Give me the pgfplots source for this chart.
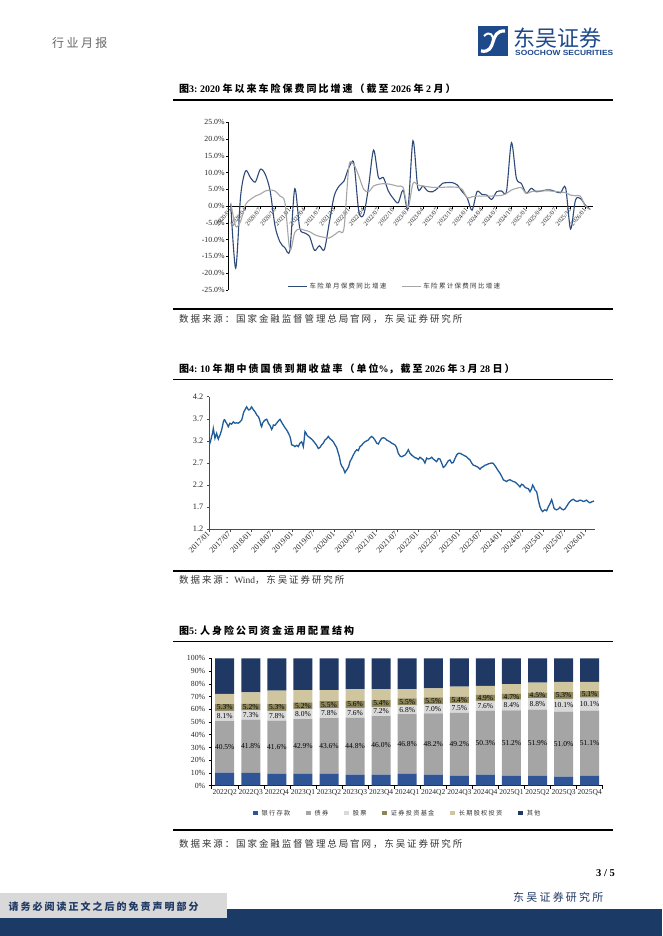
\documentclass[border=0pt]{standalone}
\usepackage{fontspec}
\usepackage{graphicx}
\usepackage{pgfplots}
\usepackage{pgfplotstable}
\pgfplotsset{compat=1.18}
\setmainfont{Liberation Serif}
\newfontfamily\cjk{Noto Sans CJK SC}
\newfontfamily\cjkls{Noto Sans CJK SC}[LetterSpace=20]
\newfontfamily\lsans{Liberation Sans}
\definecolor{navy}{HTML}{1F3864}
\definecolor{logoblue}{HTML}{1E4A8C}
\definecolor{c1blue}{HTML}{2E4A78}
\definecolor{c1gray}{HTML}{A6A6A6}
\definecolor{c2blue}{HTML}{1F5C99}
\definecolor{cbank}{HTML}{2F5597}
\definecolor{cbond}{HTML}{A5A5A5}
\definecolor{cstock}{HTML}{D9D9D9}
\definecolor{cfund}{HTML}{8C855A}
\definecolor{clte}{HTML}{CFC6A0}
\definecolor{cother}{HTML}{1F3864}
\definecolor{footgray}{HTML}{D9D9D9}
\definecolor{footnavy}{HTML}{1B3A66}
\definecolor{txt}{HTML}{333333}
\newcommand{\T}[1]{{\rmfamily\bfseries #1}}
\newcommand{\C}[1]{{\cjkls\bfseries #1}}
\pgfplotsset{/pgf/number format/assume math mode=true}

\pgfplotstableread{
i m c
0 0.5 1.0
1 -18.5 -6.0
2 3.0 -4.5
3 10.5 0.5
4 8.5 2.0
5 7.2 3.0
6 11.0 3.6
7 9.5 4.5
8 4.5 4.8
9 -6.0 4.5
10 -10.7 3.0
11 -12.4 1.0
12 -13.1 -13.0
13 5.2 -7.8
14 -6.5 -6.8
15 -8.0 -7.2
16 -9.0 -7.6
17 -13.2 -8.5
18 -11.8 -9.0
19 -13.0 -9.3
20 -5.0 -9.5
21 3.0 -8.6
22 6.0 -7.5
23 7.5 -6.5
24 11.5 12.0
25 12.8 12.3
26 -1.5 9.0
27 -2.5 5.0
28 6.0 4.3
29 16.7 6.0
30 8.5 6.5
31 8.5 6.7
32 4.5 6.6
33 2.3 6.3
34 1.0 5.9
35 4.8 5.6
36 -0.5 -0.5
37 19.5 6.8
38 5.3 6.3
39 6.0 6.0
40 4.5 5.8
41 4.3 5.6
42 5.3 5.6
43 6.8 5.6
44 7.0 5.7
45 7.0 5.7
46 6.3 5.6
47 4.3 5.0
48 2.5 2.5
49 -1.2 2.8
50 4.3 3.0
51 3.5 3.0
52 3.3 3.0
53 2.0 3.0
54 4.3 3.1
55 4.5 3.2
56 4.5 3.8
57 18.9 4.8
58 8.3 5.3
59 6.8 5.5
60 3.8 3.8
61 5.3 4.3
62 4.3 4.5
63 4.5 4.5
64 4.8 4.6
65 4.8 4.5
66 4.3 4.4
67 4.0 4.2
68 5.5 4.0
69 -6.8 3.3
70 1.8 3.1
71 2.3 3.0
72 0.3 0.0
73 -1.0 -1.0
}\autotab

\pgfplotstableread{
m y
0.00 3.11
0.38 3.20
0.67 3.30
0.96 3.38
1.15 3.48
1.44 3.35
1.63 3.26
1.92 3.33
2.11 3.37
2.40 3.28
2.59 3.24
2.88 3.30
3.07 3.33
3.36 3.40
3.55 3.45
3.84 3.55
4.03 3.63
4.31 3.68
4.51 3.67
4.79 3.62
4.99 3.60
5.27 3.55
5.47 3.52
5.75 3.57
5.94 3.60
6.42 3.58
6.90 3.63
7.38 3.60
7.86 3.61
8.34 3.60
8.82 3.63
9.30 3.67
9.59 3.75
9.78 3.82
10.07 3.88
10.26 3.90
10.55 3.95
10.74 3.97
11.03 3.93
11.31 3.90
11.70 3.91
11.98 3.95
12.18 3.97
12.46 3.93
12.66 3.91
12.94 3.88
13.14 3.86
13.42 3.82
13.71 3.78
14.09 3.75
14.38 3.70
14.67 3.62
14.86 3.55
15.05 3.52
15.34 3.60
15.53 3.63
16.01 3.67
16.49 3.69
16.78 3.65
16.97 3.60
17.45 3.55
17.93 3.46
18.22 3.50
18.41 3.56
18.89 3.55
19.37 3.60
19.85 3.65
20.33 3.69
20.81 3.62
21.28 3.56
21.76 3.50
22.24 3.45
22.72 3.38
23.20 3.30
23.49 3.20
23.68 3.11
24.16 3.10
24.64 3.07
25.12 3.10
25.60 3.07
26.08 3.15
26.56 3.18
26.85 3.12
27.04 3.07
27.32 3.25
27.52 3.41
27.80 3.38
28.09 3.33
28.47 3.30
28.95 3.27
29.43 3.24
29.91 3.20
30.39 3.15
30.87 3.10
31.35 3.03
31.83 3.05
32.31 3.11
32.79 3.15
33.27 3.22
33.75 3.25
34.23 3.30
34.71 3.25
35.19 3.22
35.67 3.18
36.15 3.11
36.63 3.05
37.11 2.92
37.39 2.85
37.78 2.69
38.16 2.62
38.54 2.58
38.83 2.52
39.02 2.48
39.31 2.52
39.69 2.56
40.08 2.62
40.46 2.73
40.94 2.80
41.42 2.88
41.90 2.95
42.38 3.00
42.86 2.98
43.34 3.07
43.82 3.10
44.30 3.15
44.77 3.18
45.25 3.20
45.73 3.22
46.21 3.27
46.69 3.30
47.17 3.27
47.65 3.22
48.13 3.15
48.61 3.13
49.09 3.20
49.57 3.26
50.05 3.27
50.53 3.26
51.01 3.22
51.49 3.20
51.97 3.18
52.45 3.15
52.92 3.13
53.40 3.11
53.88 3.05
54.36 2.92
54.84 2.86
55.32 2.84
55.80 2.86
56.28 2.88
56.76 2.93
57.24 3.00
57.72 2.92
58.20 2.88
58.68 2.85
59.16 2.82
59.64 2.81
60.12 2.78
60.60 2.83
61.07 2.80
61.55 2.77
62.03 2.70
62.51 2.81
62.99 2.79
63.47 2.80
63.95 2.83
64.43 2.79
64.91 2.76
65.39 2.73
65.87 2.80
66.35 2.79
66.83 2.70
67.31 2.60
67.79 2.63
68.27 2.69
68.75 2.75
69.22 2.77
69.70 2.70
70.18 2.71
70.66 2.80
71.14 2.88
71.62 2.92
72.10 2.92
72.58 2.90
73.06 2.88
73.54 2.86
74.02 2.84
74.50 2.80
74.98 2.77
75.46 2.70
75.94 2.65
76.42 2.64
76.90 2.62
77.37 2.60
77.85 2.56
78.33 2.60
78.81 2.62
79.29 2.65
79.77 2.66
80.25 2.68
80.73 2.69
81.21 2.70
81.69 2.69
82.17 2.64
82.65 2.58
83.13 2.52
83.61 2.47
84.09 2.40
84.56 2.32
85.04 2.30
85.52 2.28
86.00 2.31
86.48 2.32
86.96 2.30
87.44 2.28
87.92 2.27
88.40 2.24
88.88 2.20
89.36 2.16
89.84 2.22
90.32 2.20
90.80 2.15
91.28 2.13
91.76 2.12
92.24 2.05
92.71 2.12
93.00 2.20
93.38 2.15
93.67 2.09
94.15 2.05
94.44 1.95
94.63 1.86
95.11 1.71
95.49 1.64
95.88 1.60
96.26 1.63
96.55 1.64
97.03 1.62
97.51 1.71
97.99 1.78
98.47 1.87
98.75 1.80
99.14 1.68
99.52 1.65
99.90 1.64
100.38 1.66
100.86 1.70
101.34 1.66
101.82 1.64
102.30 1.66
102.78 1.72
103.26 1.78
103.74 1.83
104.22 1.86
104.70 1.88
105.18 1.85
105.66 1.83
106.14 1.84
106.62 1.86
107.10 1.85
107.57 1.83
108.05 1.84
108.53 1.86
109.01 1.82
109.49 1.80
109.97 1.82
110.64 1.84
}\yieldtab

\pgfplotstableread{
x bank bond stock fund lte other bc sc fc
0 10.2 40.5 8.1 5.3 7.9 28.0 30.45 54.75 61.45
1 10.0 41.8 7.3 5.2 9.0 26.7 30.90 55.45 61.70
2 9.4 41.6 7.8 5.3 10.5 25.4 30.20 54.90 61.45
3 9.4 42.9 8.0 5.2 9.6 24.9 30.85 56.30 62.90
4 9.4 43.6 7.8 5.5 8.8 24.9 31.20 56.90 63.55
5 8.6 44.8 7.6 5.6 9.3 24.1 31.00 57.20 63.80
6 8.6 46.0 7.2 5.4 8.7 24.1 31.60 58.20 64.50
7 9.4 46.8 6.8 5.5 7.4 24.1 32.80 59.60 65.75
8 8.6 48.2 7.0 5.5 7.1 23.6 32.70 60.30 66.55
9 7.9 49.2 7.5 5.4 7.7 22.3 32.50 60.85 67.30
10 8.6 50.3 7.6 4.9 6.9 21.7 33.75 62.70 68.95
11 7.9 51.2 8.4 4.7 7.6 20.2 33.50 63.30 69.85
12 7.9 51.9 8.8 4.5 7.8 19.1 33.85 64.20 70.85
13 7.1 51.0 10.1 5.3 7.9 18.6 32.60 63.15 70.85
14 7.9 51.1 10.1 5.1 7.2 18.6 33.45 64.05 71.65
}\lifetab

\begin{document}
\begin{tikzpicture}
\useasboundingbox (0,0) rectangle (662pt,936pt);
\fill[white] (0,0) rectangle (662pt,936pt);

% ---------- header ----------
\node[anchor=west, inner sep=0pt, text=black!60, font=\fontsize{12}{14}\selectfont\cjkls] at (52pt,893pt) {行业月报};
\fill[logoblue] (478pt,880pt) rectangle (508pt,910pt);
\draw[white, line width=3.2pt] (481pt,885pt) .. controls (498pt,882pt) and (488pt,906pt) .. (505pt,905pt);
\draw[white, line width=2pt] (484pt,900pt) .. controls (490pt,906pt) and (494pt,900pt) .. (493pt,895pt);
\node[anchor=west, inner sep=0pt, text=logoblue, font=\fontsize{22}{24}\selectfont\cjk] at (513pt,898pt) {东吴证券};
\node[anchor=west, inner sep=0pt, text=logoblue] at (515pt,883.5pt) {\resizebox{98pt}{5.2pt}{\lsans\bfseries SOOCHOW SECURITIES}};

% ---------- chart 1 frame ----------
\node[anchor=west, inner sep=0pt, font=\fontsize{10}{12}\selectfont] at (179pt,847pt)
  {\C{图}\T{3:~2020~}\C{年以来车险保费同比增速（截至}\T{~2026~}\C{年}\T{~2~}\C{月）}};
\draw[line width=1.2pt] (173pt,836pt) -- (613pt,836pt);
\draw[line width=1.2pt] (173pt,627pt) -- (613pt,627pt);
\node[anchor=west, inner sep=0pt, text=txt, font=\fontsize{9.5}{11}\selectfont\cjkls] at (179pt,616.7pt) {数据来源：国家金融监督管理总局官网，东吴证券研究所};

\begin{axis}[
  at={(228.3pt,646pt)}, anchor=south west, scale only axis,
  width=364.4pt, height=167.7pt,
  xmin=-0.5, xmax=73.5, ymin=-25, ymax=25,
  axis x line*=middle, axis y line*=left,
  axis line style={black, line width=0.6pt},
  hide obscured x ticks=false, hide obscured y ticks=false,
  tick align=outside, major tick length=2.5pt,
  tick style={black, line width=0.5pt},
  ytick={-25,-20,-15,-10,-5,0,5,10,15,20,25},
  yticklabel={\pgfmathprintnumber[fixed,fixed zerofill,precision=1]{\tick}\%},
  yticklabel style={font=\fontsize{7.8}{8}\selectfont, inner sep=1pt, text=black!85},
  xtick={0,3,...,72},
  xticklabels={2020/01,2020/04,2020/07,2020/10,2021/01,2021/04,2021/07,2021/10,2022/01,2022/04,2022/07,2022/10,2023/01,2023/04,2023/07,2023/10,2024/01,2024/04,2024/07,2024/10,2025/01,2025/04,2025/07,2025/10,2026/01},
  xticklabel style={rotate=50, anchor=east, font=\fontsize{6.3}{7}\selectfont, inner sep=0.5pt, text=black!85},
  legend style={at={(0.457,0.02)}, anchor=center, draw=none, fill=none, legend columns=2,
    font=\fontsize{6.5}{7}\selectfont\cjkls, text=black!80,
    /tikz/every even column/.append style={column sep=13pt}},
  legend image code/.code={\draw[#1] (0pt,0pt) -- (19pt,0pt);},
]
\addplot[c1blue, line width=1.1pt, smooth, tension=0.5] table[x=i, y=m] {\autotab};
\addlegendentry{车险单月保费同比增速}
\addplot[c1gray, line width=1.1pt, smooth, tension=0.5] table[x=i, y=c] {\autotab};
\addlegendentry{车险累计保费同比增速}
\end{axis}

% ---------- chart 2 frame ----------
\node[anchor=west, inner sep=0pt, font=\fontsize{10}{12}\selectfont] at (179pt,566.7pt)
  {\C{图}\T{4:~10~}\C{年期中债国债到期收益率（单位}\T{\%}\C{，截至}\T{~2026~}\C{年}\T{~3~}\C{月}\T{~28~}\C{日）}};
\draw[line width=1.2pt] (173pt,556.7pt) -- (613pt,556.7pt);
\draw[line width=1.2pt] (173pt,365pt) -- (613pt,365pt);
\node[anchor=west, inner sep=0pt, text=txt, font=\fontsize{9.5}{11}\selectfont\cjkls] at (179pt,356pt) {数据来源：{\rmfamily\fontsize{9.5}{11}\selectfont Wind}，东吴证券研究所};

\begin{axis}[
  at={(209.3pt,406.7pt)}, anchor=south west, scale only axis,
  width=385.9pt, height=132.6pt,
  xmin=0, xmax=111, ymin=1.2, ymax=4.2,
  axis x line*=bottom, axis y line*=left,
  axis line style={black!70, line width=0.6pt},
  tick align=outside, major tick length=2.5pt,
  tick style={black!70, line width=0.5pt},
  ytick={1.2,1.7,2.2,2.7,3.2,3.7,4.2},
  yticklabel={\pgfmathprintnumber[fixed,fixed zerofill,precision=1]{\tick}},
  yticklabel style={font=\fontsize{8.3}{9}\selectfont, text=black!85},
  xtick={0,6,...,108},
  xticklabels={2017/01,2017/07,2018/01,2018/07,2019/01,2019/07,2020/01,2020/07,2021/01,2021/07,2022/01,2022/07,2023/01,2023/07,2024/01,2024/07,2025/01,2025/07,2026/01},
  xticklabel style={rotate=45, anchor=east, font=\fontsize{8}{9}\selectfont, inner sep=1pt, text=black!85},
]
\addplot[c2blue, line width=1.3pt] table[x=m, y=y] {\yieldtab};
\end{axis}

% ---------- chart 3 frame ----------
\node[anchor=west, inner sep=0pt, font=\fontsize{10}{12}\selectfont] at (179pt,305pt)
  {\C{图}\T{5:~}\C{人身险公司资金运用配置结构}};
\draw[line width=1.2pt] (173pt,294.3pt) -- (613pt,294.3pt);
\draw[line width=1.2pt] (173pt,106pt) -- (613pt,106pt);
\node[anchor=west, inner sep=0pt, text=txt, font=\fontsize{9.5}{11}\selectfont\cjkls] at (179pt,92pt) {数据来源：国家金融监督管理总局官网，东吴证券研究所};

\begin{axis}[
  at={(211.7pt,150.3pt)}, anchor=south west, scale only axis,
  width=391pt, height=127.4pt,
  xmin=-0.5, xmax=14.5, ymin=0, ymax=100,
  ybar stacked, bar width=19pt,
  axis x line*=bottom, axis y line*=left,
  axis line style={black, line width=0.6pt},
  tick align=outside, major tick length=3pt, minor tick length=3pt,
  tick style={black, line width=0.5pt},
  ytick={0,10,...,100},
  yticklabel={\pgfmathprintnumber{\tick}\%},
  yticklabel style={font=\fontsize{7.8}{8}\selectfont, text=black!85},
  xtick={0,...,14},
  major x tick style={draw=none},
  minor xtick={-0.5,0.5,...,14.5},
  xticklabels={2022Q2,2022Q3,2022Q4,2023Q1,2023Q2,2023Q3,2023Q4,2024Q1,2024Q2,2024Q3,2024Q4,2025Q1,2025Q2,2025Q3,2025Q4},
  xticklabel style={font=\fontsize{7.5}{8}\selectfont, text=black!85, inner sep=1pt},
  legend style={at={(0.476,-0.2166)}, anchor=center, draw=none, fill=none, legend columns=6,
    font=\fontsize{6.2}{7}\selectfont\cjkls, text=black!80,
    /tikz/every odd column/.append style={column sep=2pt},
    /tikz/every even column/.append style={column sep=14pt}},
  legend image code/.code={\fill[#1] (0pt,-2.2pt) rectangle (4.5pt,2.3pt);},
]
\addplot[fill=cbank, draw=none] table[x=x, y=bank] {\lifetab};
\addlegendentry{银行存款}
\addplot[fill=cbond, draw=none] table[x=x, y=bond] {\lifetab};
\addlegendentry{债券}
\addplot[fill=cstock, draw=none] table[x=x, y=stock] {\lifetab};
\addlegendentry{股票}
\addplot[fill=cfund, draw=none] table[x=x, y=fund] {\lifetab};
\addlegendentry{证券投资基金}
\addplot[fill=clte, draw=none] table[x=x, y=lte] {\lifetab};
\addlegendentry{长期股权投资}
\addplot[fill=cother, draw=none] table[x=x, y=other] {\lifetab};
\addlegendentry{其他}
\end{axis}

\begin{axis}[
  at={(211.7pt,150.3pt)}, anchor=south west, scale only axis,
  width=391pt, height=127.4pt,
  xmin=-0.5, xmax=14.5, ymin=0, ymax=100,
  hide axis,
  nodes near coords={\pgfmathprintnumber[fixed,fixed zerofill,precision=1]{\pgfplotspointmeta}\%},
  every node near coord/.append style={anchor=center, font=\fontsize{7.5}{8}\selectfont, text=black, inner sep=0pt},
  point meta=explicit,
]
\addplot[only marks, mark=*, mark size=0pt, mark options={draw=none, fill=none}] table[x=x, y=bc, meta=bond] {\lifetab};
\addplot[only marks, mark=*, mark size=0pt, mark options={draw=none, fill=none}] table[x=x, y=sc, meta=stock] {\lifetab};
\addplot[only marks, mark=*, mark size=0pt, mark options={draw=none, fill=none}] table[x=x, y=fc, meta=fund] {\lifetab};
\end{axis}

% ---------- footer ----------
\node[anchor=east, inner sep=0pt, font=\fontsize{10.5}{12}\selectfont\bfseries] at (615pt,63pt) {3~/~5};
\node[anchor=west, inner sep=0pt, text=navy, font=\fontsize{11}{12}\selectfont\cjkls] at (513pt,39pt) {东吴证券研究所};
\fill[footnavy] (0,0) rectangle (662pt,27pt);
\fill[footgray] (0,18pt) rectangle (227pt,43pt);
\node[anchor=west, inner sep=0pt, text=navy, font=\fontsize{10}{12}\selectfont\cjkls\bfseries] at (8.5pt,29.5pt) {请务必阅读正文之后的免责声明部分};
\end{tikzpicture}
\end{document}
